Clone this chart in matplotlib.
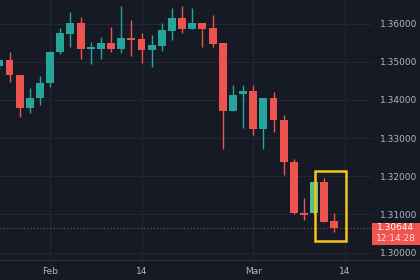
import matplotlib
matplotlib.use("Agg")
import matplotlib.pyplot as plt
from matplotlib.patches import Rectangle
from matplotlib.lines import Line2D
import matplotlib.transforms as mtransforms

# ---- data (daily candles) ----
opens = [1.34887, 1.35044, 1.34651, 1.33786, 1.34048, 1.34441, 1.35253, 1.35725,
         1.36013, 1.35345, 1.35332, 1.35489, 1.35332, 1.35620, 1.35594, 1.35306,
         1.35411, 1.35804, 1.36144, 1.35856, 1.36013, 1.35882, 1.35489, 1.33708,
         1.34153, 1.34232, 1.33236, 1.34048, 1.33472, 1.32371, 1.31035, 1.31035,
         1.31847, 1.30826]
highs = [1.35096, 1.35253, 1.34660, 1.34310, 1.34625, 1.35270, 1.35882, 1.36301,
         1.36170, 1.35515, 1.35646, 1.35908, 1.36459, 1.36092, 1.35751, 1.35699,
         1.36013, 1.36406, 1.36459, 1.36406, 1.36020, 1.36223, 1.35500, 1.34389,
         1.34389, 1.34389, 1.34060, 1.34205, 1.33603, 1.32450, 1.31428, 1.31860,
         1.31952, 1.31035]
lows = [1.34834, 1.34467, 1.33550, 1.33655, 1.33865, 1.34336, 1.35201, 1.35384,
        1.35070, 1.34939, 1.35070, 1.35253, 1.35227, 1.35149, 1.34965, 1.34860,
        1.35280, 1.35568, 1.35751, 1.35850, 1.35384, 1.35384, 1.32712, 1.33700,
        1.33262, 1.33079, 1.32712, 1.33157, 1.32031, 1.31020, 1.30852, 1.31020,
        1.30790, 1.30537]
closes = [1.35044, 1.34651, 1.33786, 1.34048, 1.34441, 1.35253, 1.35751, 1.36013,
          1.35332, 1.35358, 1.35489, 1.35332, 1.35620, 1.35568, 1.35306, 1.35437,
          1.35830, 1.36144, 1.35856, 1.36013, 1.35856, 1.35463, 1.33708, 1.34127,
          1.34232, 1.33236, 1.34048, 1.33472, 1.32371, 1.31035, 1.30983, 1.31847,
          1.30799, 1.30644]
highlight_index = 31
last_price = 1.30644
last_price_text = "1.30644"
countdown_text = "12:14:28"
x_tick_pos = [5, 14, 25, 34]
x_tick_labels = ["Feb", "14", "Mar", "14"]
y_ticks = [1.30, 1.31, 1.32, 1.33, 1.34, 1.35, 1.36]
box_x = (31.1, 34.15)
box_y = (1.30302, 1.32136)

# ---- style ----
BG = "#161a25"
GRID = "#232733"
UP = "#26a69a"
DOWN = "#ef5350"
HL = "#5cbf86"
TXT = "#b2b5be"

fig = plt.figure(figsize=(4.2, 2.8), dpi=100, facecolor=BG)
ax = fig.add_axes([0.0, 20 / 280, 372 / 420, 260 / 280])
ax.set_facecolor(BG)

n = len(opens)
xs = list(range(n))
colors = []
for i in range(n):
    if i == highlight_index:
        colors.append(HL)
    elif closes[i] >= opens[i]:
        colors.append(UP)
    else:
        colors.append(DOWN)

bottoms = [min(o, c) for o, c in zip(opens, closes)]
heights = [max(abs(c - o), 0.00028) for o, c in zip(opens, closes)]

ax.vlines(xs, lows, highs, colors=colors, linewidth=1.0, zorder=3)
ax.bar(xs, heights, bottom=bottoms, width=0.78, color=colors, linewidth=0, zorder=4)

# highlight box
ax.add_patch(Rectangle((box_x[0], box_y[0]), box_x[1] - box_x[0], box_y[1] - box_y[0],
                       fill=False, edgecolor="#f7c31c", linewidth=1.8, zorder=6))

# last price line
ax.axhline(last_price, color=DOWN, linestyle=(0, (1, 2)), linewidth=0.8, alpha=0.7, zorder=2)

ax.set_xlim(0.064, 36.7)
ax.set_ylim(1.29804, 1.36616)

ax.set_xticks(x_tick_pos)
ax.set_xticklabels(x_tick_labels)
ax.set_yticks(y_ticks)
ax.set_yticklabels([f"{v:.5f}" for v in y_ticks])
ax.yaxis.tick_right()
ax.tick_params(axis="both", length=0, colors=TXT, labelsize=6.5)
ax.tick_params(axis="y", pad=6)
ax.tick_params(axis="x", pad=5)
ax.grid(True, color=GRID, linewidth=0.8, zorder=0)
ax.set_axisbelow(True)
for s in ax.spines.values():
    s.set_visible(False)

# bottom separator
fig.add_artist(Line2D([0, 1], [20 / 280, 20 / 280], color="#2a2e39", linewidth=1.0,
                      transform=fig.transFigure))

# price label
trans = mtransforms.blended_transform_factory(ax.transAxes, ax.transData)
ax.add_patch(Rectangle((1.0, 1.30198), 48 / 372, 0.00577, transform=trans,
                       facecolor="#f05350", edgecolor="none", clip_on=False, zorder=7))
ax.text(1.0 + 24 / 372, last_price, last_price_text, transform=trans, color="white",
        fontsize=6.5, ha="center", va="center", clip_on=False, zorder=8)
ax.text(1.0 + 24 / 372, 1.30357, countdown_text, transform=trans, color="#fde3e3",
        fontsize=6.5, ha="center", va="center", clip_on=False, zorder=8)

fig.savefig("out.png", dpi=100, facecolor=BG)
